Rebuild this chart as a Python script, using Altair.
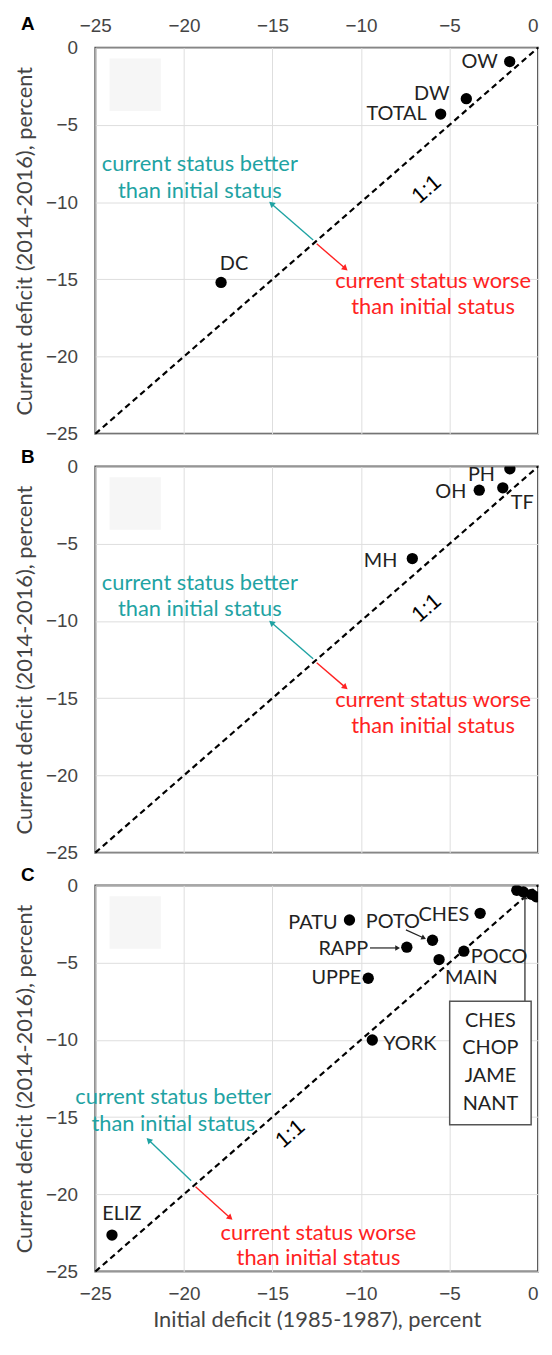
import altair as alt
import numpy as np
import pandas as pd

# ---------------- data ----------------
a_names = ["OW", "DW", "TOTAL", "DC"]
a_init = [-1.6, -4.05, -5.5, -17.9]
a_curr = [-0.9, -3.3, -4.3, -15.2]

b_names = ["PH", "OH", "TF", "MH"]
b_init = [-1.59, -3.32, -1.99, -7.1]
b_curr = [-0.15, -1.53, -1.38, -5.96]

c_names = ["PATU", "POTO", "CHES", "RAPP", "MAIN", "POCO", "UPPE", "YORK", "ELIZ",
           "CHES*", "CHOP", "JAME", "NANT"]
c_init = [-10.65, -5.96, -3.27, -7.41, -5.59, -4.19, -9.59, -9.36, -24.06,
          -1.2, -0.83, -0.37, -0.1]
c_curr = [-2.24, -3.55, -1.81, -4.0, -4.8, -4.26, -6.01, -10.01, -22.64,
          -0.32, -0.42, -0.58, -0.74]
c_box_names = ["CHES", "CHOP", "JAME", "NANT"]

ticks = [-25, -20, -15, -10, -5, 0]

# label placement (align, dx, dy) in pixels relative to the point
a_lab = {"OW": ("right", -12, 0), "DW": ("right", -17, -5), "TOTAL": ("right", -14, 0),
         "DC": ("center", 13, -19)}
b_lab = {"PH": ("right", -15, 6), "OH": ("right", -13, 2), "TF": ("left", 8, 15),
         "MH": ("right", -15, 2)}
c_lab = {"PATU": ("right", -12, 3), "POTO": ("center", -40, -18), "CHES": ("right", -11, 2),
         "RAPP": ("right", -39, 2), "MAIN": ("left", 6, 19), "POCO": ("left", 7, 6),
         "UPPE": ("right", -7, 0), "YORK": ("left", 11, 4), "ELIZ": ("center", 10, -21)}

TEAL = "#1fa3a3"
RED = "#ff2222"

# annotation anchors (data units)
ab_notes = {
    "better": [(-19.1, -7.55, "current status better"), (-19.1, -9.26, "than initial status")],
    "worse": [(-5.93, -15.1, "current status worse"), (-5.93, -16.8, "than initial status")],
    "teal_arrow": (-12.7, -12.45, -15.06, -10.1),
    "red_arrow": (-12.5, -12.7, -10.88, -14.3),
    "one": (-6.3, -9.15),
}
c_notes = {
    "better": [(-20.6, -13.72, "current status better"), (-20.6, -15.47, "than initial status")],
    "worse": [(-12.4, -22.49, "current status worse"), (-12.4, -24.15, "than initial status")],
    "teal_arrow": (-19.59, -19.13, -21.99, -16.49),
    "red_arrow": (-19.34, -19.51, -17.38, -21.53),
    "one": (-14.0, -16.06),
}
c_black_arrows = [(-7.46, -2.88, -6.45, -3.41), (-9.49, -4.05, -7.93, -4.05),
                  (-0.74, -7.5, -0.74, -0.75)]
c_box = (-4.99, -7.5, -0.39, -15.49)
c_box_text_y = [-8.78, -10.55, -12.36, -14.17]
faint_box = (-24.2, -0.7, -21.3, -4.1)

W, H = 446, 389
XS, YS = W / 25.0, H / 25.0
LABEL_FONT = "Lato"
TICK_FONT = "Liberation Sans"

xscale = alt.Scale(domain=[-25, 0], nice=False, zero=False)
yscale = alt.Scale(domain=[-25, 0], nice=False, zero=False)
zero_right = {"condition": {"test": "datum.value == 0", "value": "right"}, "value": "center"}


def head_angle(x1, y1, x2, y2):
    dx = (x2 - x1) * XS
    dy = -(y2 - y1) * YS
    return float(np.degrees(np.arctan2(dx, -dy)) % 360)


def panel(letter, names, xs, ys, lab, notes, xaxis, letter_y, extra=None):
    yaxis = alt.Axis(values=ticks, title="Current deficit (2014-2016), percent",
                     labelPadding=18, titlePadding=9)
    diag = pd.DataFrame({"x": [-25, 0], "y": [-25, 0]})
    layers = []
    fb = pd.DataFrame({"x": [faint_box[0]], "y": [faint_box[1]],
                       "x2": [faint_box[2]], "y2": [faint_box[3]]})
    layers.append(alt.Chart(fb).mark_rect(fill="#f6f6f6").encode(
        x=alt.X("x:Q", scale=xscale, axis=xaxis), y=alt.Y("y:Q", scale=yscale, axis=yaxis),
        x2="x2", y2="y2"))
    layers.append(alt.Chart(diag).mark_line(color="black", strokeDash=[6, 4], strokeWidth=2.2).encode(
        x="x:Q", y="y:Q"))

    # arrows
    arr_rows = []
    tr, rr = notes["teal_arrow"], notes["red_arrow"]
    arr_rows.append(dict(x=tr[0], y=tr[1], x2=tr[2], y2=tr[3], c=TEAL, a=head_angle(*tr)))
    arr_rows.append(dict(x=rr[0], y=rr[1], x2=rr[2], y2=rr[3], c=RED, a=head_angle(*rr)))
    arr = pd.DataFrame(arr_rows)
    layers.append(alt.Chart(arr).mark_rule(strokeWidth=1.4).encode(
        x="x:Q", y="y:Q", x2="x2", y2="y2", color=alt.Color("c:N", scale=None)))
    layers.append(alt.Chart(arr).mark_point(shape="triangle-up", filled=True, size=45, opacity=1).encode(
        x="x2:Q", y="y2:Q", angle=alt.Angle("a:Q", scale=None), color=alt.Color("c:N", scale=None)))

    if extra is not None:
        layers.extend(extra)

    # points
    pts = pd.DataFrame({"name": names, "x": xs, "y": ys})
    layers.append(alt.Chart(pts).mark_circle(size=130, color="black", opacity=1, clip=True).encode(
        x="x:Q", y="y:Q"))
    for nm, (al, dx, dy) in lab.items():
        layers.append(alt.Chart(pts).transform_filter(alt.datum.name == nm).mark_text(
            align=al, baseline="middle", dx=dx, dy=dy, font=LABEL_FONT, fontSize=20, color="#222"
        ).encode(x="x:Q", y="y:Q", text="name:N"))

    # coloured notes
    bt = pd.DataFrame([dict(x=p[0], y=p[1], t=p[2]) for p in notes["better"]])
    wt = pd.DataFrame([dict(x=p[0], y=p[1], t=p[2]) for p in notes["worse"]])
    layers.append(alt.Chart(bt).mark_text(font=LABEL_FONT, fontSize=22, color=TEAL, baseline="middle").encode(
        x="x:Q", y="y:Q", text="t:N"))
    layers.append(alt.Chart(wt).mark_text(font=LABEL_FONT, fontSize=22, color=RED, baseline="middle").encode(
        x="x:Q", y="y:Q", text="t:N"))
    one = pd.DataFrame({"x": [notes["one"][0]], "y": [notes["one"][1]], "t": ["1:1"]})
    layers.append(alt.Chart(one).mark_text(font=TICK_FONT, fontSize=22, angle=319, color="black",
                                           baseline="middle").encode(x="x:Q", y="y:Q", text="t:N"))
    let = pd.DataFrame({"t": [letter]})
    layers.append(alt.Chart(let).mark_text(font=TICK_FONT, fontSize=19, fontWeight="bold", color="black",
                                           baseline="middle").encode(
        x=alt.value(-68), y=alt.value(letter_y), text="t:N"))
    return alt.layer(*layers).properties(width=W, height=H)


# panel C extras: black arrows and box
bl = pd.DataFrame([dict(x=a[0], y=a[1], x2=a[2], y2=a[3], a=head_angle(*a)) for a in c_black_arrows])
box = pd.DataFrame({"x": [c_box[0]], "y": [c_box[1]], "x2": [c_box[2]], "y2": [c_box[3]]})
boxt = pd.DataFrame({"t": c_box_names, "y": c_box_text_y,
                     "x": [(c_box[0] + c_box[2]) / 2] * len(c_box_names)})
c_extra = [
    alt.Chart(bl).mark_rule(strokeWidth=1.2, color="#222").encode(x="x:Q", y="y:Q", x2="x2", y2="y2"),
    alt.Chart(bl).mark_point(shape="triangle-up", filled=True, size=30, color="#222", opacity=1).encode(
        x="x2:Q", y="y2:Q", angle=alt.Angle("a:Q", scale=None)),
    alt.Chart(box).mark_rect(fill="white", stroke="#555", strokeWidth=1.5).encode(
        x="x:Q", y="y:Q", x2="x2", y2="y2"),
    alt.Chart(boxt).mark_text(font=LABEL_FONT, fontSize=20, color="#222", baseline="middle").encode(
        x="x:Q", y="y:Q", text="t:N"),
]

xa_top = alt.Axis(values=ticks, orient="top", title=None, labelPadding=12, labelAlign=zero_right)
xa_none = alt.Axis(values=ticks, labels=False, title=None)
xa_bot = alt.Axis(values=ticks, orient="bottom", title="Initial deficit (1985-1987), percent",
                  labelPadding=13, titlePadding=6, labelAlign=zero_right)

pA = panel("A", a_names, a_init, a_curr, a_lab, ab_notes, xa_top, -24)
pB = panel("B", b_names, b_init, b_curr, b_lab, ab_notes, xa_none, -10)
pC = panel("C", c_names, c_init, c_curr, c_lab, c_notes, xa_bot, -10, extra=c_extra)

chart = alt.vconcat(pA, pB, pC, spacing=33, bounds="flush").properties(
    padding={"left": 4, "top": 1, "right": 0, "bottom": 0}
).configure_view(stroke="#555", strokeWidth=2).configure_axis(
    grid=True, gridColor="#dedede", gridWidth=1, domain=False, ticks=False,
    labelFont=TICK_FONT, labelFontSize=19, labelColor="#444",
    titleFont=LABEL_FONT, titleFontSize=22, titleColor="#444", titleFontWeight="normal"
)

chart.save("out.html", embed_options={"renderer": "svg", "actions": False})
